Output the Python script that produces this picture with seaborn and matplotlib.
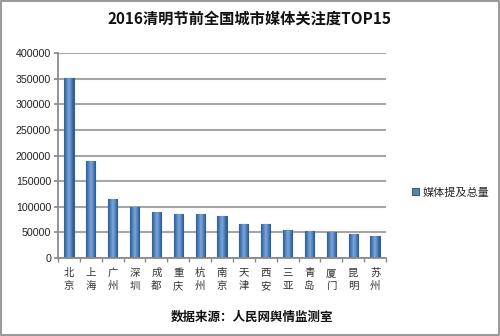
import matplotlib
matplotlib.use("Agg")
import matplotlib.pyplot as plt
import seaborn as sns
import pandas as pd
import numpy as np
from matplotlib.patches import Rectangle
from matplotlib.colors import LinearSegmentedColormap

cities = ["北京", "上海", "广州", "深圳", "成都", "重庆", "杭州", "南京",
          "天津", "西安", "三亚", "青岛", "厦门", "昆明", "苏州"]
values = [352000, 189000, 115000, 100000, 89000, 86000, 85000, 83000,
          67000, 66500, 54000, 53500, 51000, 47000, 42500]
yticks = [0, 50000, 100000, 150000, 200000, 250000, 300000, 350000, 400000]
title = "2016清明节前全国城市媒体关注度TOP15"
series_name = "媒体提及总量"
source = "数据来源：人民网舆情监测室"

sns.set_theme(style="white")
plt.rcParams['font.family'] = ['Noto Sans CJK SC', 'DejaVu Sans']

df = pd.DataFrame({"city": ["\n".join(c) for c in cities], "value": values,
                   "series": series_name})

fig = plt.figure(figsize=(5.0, 3.36), dpi=100)
ax = fig.add_axes([0.116, 0.232, 0.656, 0.610])

sns.barplot(data=df, x="city", y="value", hue="series", ax=ax,
            palette=["#4f81bd"], width=0.42, edgecolor="#33609a",
            linewidth=0.8, legend=True)

# cylinder-like shading clipped to each bar
cmap = LinearSegmentedColormap.from_list(
    "cyl", ["#2f5d96", "#4f81bd", "#7fa6d8", "#4f81bd", "#2c568c"])
grad = np.linspace(0, 1, 64).reshape(1, -1)
for p in list(ax.patches):
    x0, y0 = p.get_x(), p.get_y()
    w, h = p.get_width(), p.get_height()
    if h <= 0:
        continue
    im = ax.imshow(grad, cmap=cmap, aspect="auto",
                   extent=(x0, x0 + w, y0, y0 + h), zorder=p.get_zorder() + 0.1)
    im.set_clip_path(p)

ax.set_ylim(0, 400000)
ax.set_yticks(yticks)
ax.set_yticklabels([str(v) for v in yticks], fontsize=7.7,
                   family=['Liberation Sans', 'DejaVu Sans'], color="#222222")
ax.yaxis.grid(True, color="#a6a6a6", linewidth=1.5)
ax.set_axisbelow(True)
ax.set_xlim(-0.5, len(cities) - 0.5)
ax.set_xlabel("")
ax.set_ylabel("")
ax.tick_params(axis="x", labelsize=7.5, colors="#333333", length=0, pad=7)
ax.tick_params(axis="y", length=3, color="#888888", pad=2, left=True)
for lbl in ax.get_xticklabels():
    lbl.set_linespacing(1.4)
ax.set_xticks([i - 0.5 for i in range(len(cities) + 1)], minor=True)
ax.tick_params(axis="x", which="minor", length=3, color="#888888", bottom=True)

for s in ["top", "right"]:
    ax.spines[s].set_visible(False)
ax.spines["left"].set_color("#888888")
ax.spines["bottom"].set_color("#888888")

leg = ax.legend(loc="center left", bbox_to_anchor=(1.05, 0.32), frameon=False,
                fontsize=8, handlelength=0.6, handleheight=0.6,
                handletextpad=0.3)

fig.text(0.5, 0.945, title, ha="center", va="center", fontsize=11,
         fontweight="bold", color="#111111")
fig.text(0.505, 0.055, source, ha="center", va="center", fontsize=9,
         fontweight="bold", color="#111111")

fig.patches.append(Rectangle((0.002, 0.003), 0.996, 0.994, transform=fig.transFigure,
                             fill=False, edgecolor="#888888", linewidth=1.2))

fig.savefig("out.png", dpi=100)
